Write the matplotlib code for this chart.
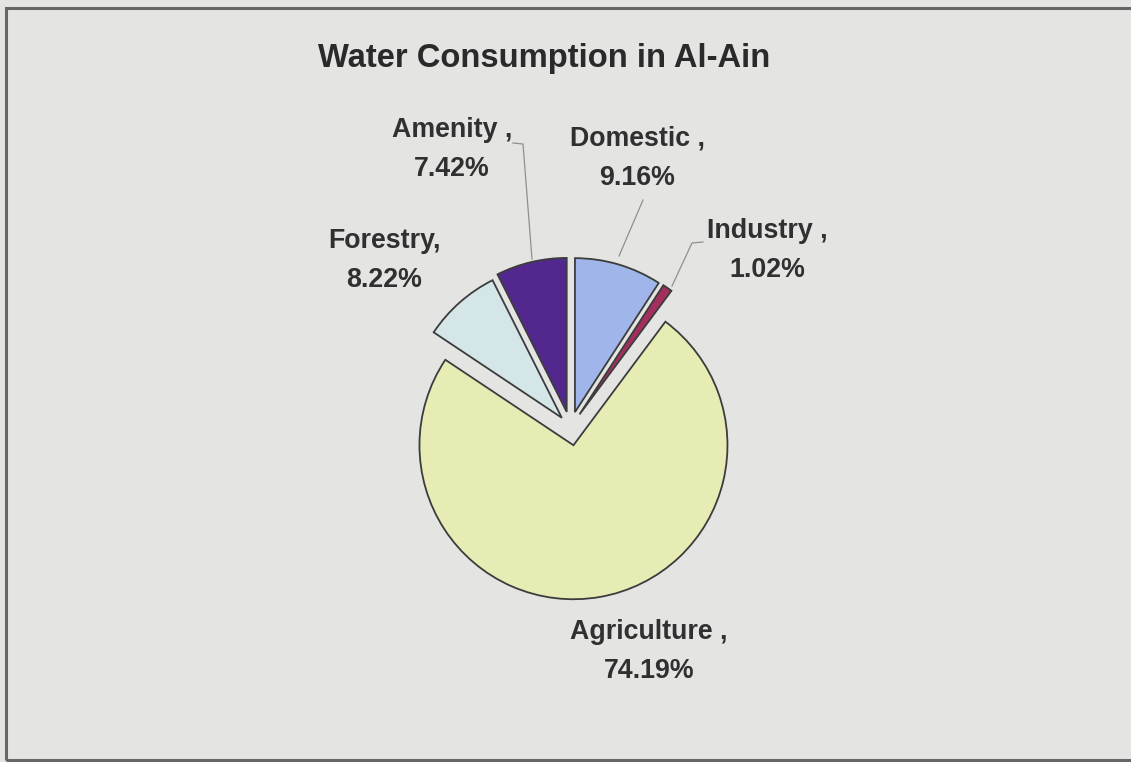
import matplotlib
matplotlib.use("Agg")
import matplotlib.pyplot as plt
from matplotlib.patches import Rectangle

# Water consumption shares by sector (%), clockwise from 12 o'clock
categories = ["Domestic", "Industry", "Agriculture", "Forestry", "Amenity"]
shares = [9.16, 1.02, 74.19, 8.22, 7.42]
label_names = ["Domestic ,", "Industry ,", "Agriculture ,", "Forestry,", "Amenity ,"]
title = "Water Consumption in Al-Ain"

colors = ["#a0b6ea", "#a32f5f", "#e7ecb4", "#d5e6e8", "#52288f"]
bg = "#e4e4e2"
text_color = "#303030"

W, H = 1131, 762
fig = plt.figure(figsize=(W / 100, H / 100), dpi=100)
fig.patch.set_facecolor(bg)
ax = fig.add_axes([0, 0, 1, 1])
ax.set_facecolor(bg)


def px(x, y):
    """Pixel position (origin top-left) to axes data coordinates."""
    return x, H - y


center = px(570.4, 427.5)
radius = 154
explode = [16, 16, 18, 13, 16]

ax.pie(shares, colors=colors, startangle=90, counterclock=False,
       center=center, radius=radius, explode=explode,
       wedgeprops=dict(edgecolor="#3c3c3c", linewidth=1.3))
ax.set_xlim(0, W)
ax.set_ylim(0, H)
ax.set_aspect("equal")
ax.axis("off")

# chart frame
ax.add_patch(Rectangle(px(6, 760), 1200, 752, fill=False,
                       edgecolor="#666666", linewidth=2.2, zorder=5))

# title
ax.text(*px(544, 67), title, ha="center", va="baseline",
        fontsize=23.6, fontweight="bold", family="Liberation Sans",
        color="#2a2a2a")

# data labels: (center x, first baseline y) per slice
label_pos = {
    "Domestic": (637, 146),
    "Industry": (767, 238),
    "Agriculture": (649, 639),
    "Forestry": (384, 248),
    "Amenity": (452, 137),
}
line_gap = 39
for cat, name, val in zip(categories, label_names, shares):
    x, y = label_pos[cat]
    for i, line in enumerate([name, f"{val:.2f}%"]):
        ax.text(*px(x, y + i * line_gap), line, ha="center", va="baseline",
                fontsize=19.3, fontweight="bold", family="Liberation Sans",
                color=text_color)

# leader lines
leaders = [
    [(643, 200), (619, 256)],
    [(513, 143), (523, 144), (532, 259)],
    [(703, 242), (692, 243), (672, 286)],
]
for pts in leaders:
    xs, ys = zip(*[px(a, b) for a, b in pts])
    ax.plot(xs, ys, color="#909090", linewidth=0.9, zorder=4)

fig.savefig("out.png", dpi=100, facecolor=bg)
